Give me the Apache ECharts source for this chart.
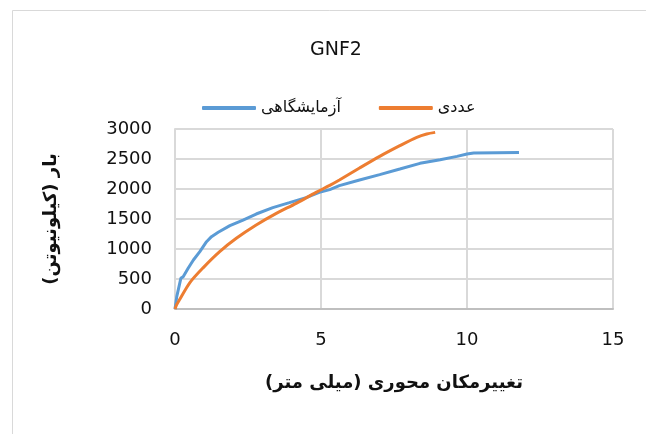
<!DOCTYPE html>
<html>
<head>
<meta charset="utf-8">
<script src="https://cdn.jsdelivr.net/npm/echarts@6/dist/echarts.min.js"></script>
<style>
  html, body { margin: 0; padding: 0; background: #fff; }
  #chart { width: 646px; height: 434px; }
</style>
</head>
<body>
<div id="chart"></div>
<script>
  // آزمایشگاهی (lab test)
  const labX = [0, 0.06, 0.2, 0.28, 0.45, 0.63, 0.85, 1.08, 1.25, 1.48, 1.88, 2.33, 2.78, 3.35, 3.92, 4.49, 4.94, 5.3, 5.63, 6.32, 7.01, 7.7, 8.39, 9.08, 9.66, 10.0, 10.23, 11.03, 11.78];
  const labY = [0, 206, 511, 539, 678, 817, 956, 1122, 1206, 1278, 1389, 1483, 1583, 1689, 1772, 1856, 1944, 1990, 2056, 2150, 2239, 2333, 2428, 2489, 2544, 2583, 2600, 2606, 2610];
  // عددی (numerical)
  const numX = [0, 0.05, 0.17, 0.51, 0.97, 1.53, 2.1, 2.78, 3.47, 4.15, 4.83, 5.3, 5.63, 6.32, 7.01, 7.7, 8.28, 8.62, 8.91];
  const numY = [0, 65, 165, 440, 690, 956, 1178, 1400, 1594, 1761, 1944, 2060, 2150, 2350, 2544, 2722, 2861, 2917, 2944];

  const zip = (xs, ys) => xs.map((x, i) => [x, ys[i]]);

  const font = "'DejaVu Sans', 'Open Sans', sans-serif";
  const RLM = '\u200F';

  let myChart = echarts.init(document.getElementById('chart'));
  let option = {
    backgroundColor: '#ffffff',
    animation: false,
    title: {
      text: 'GNF2',
      left: 305,
      top: 36,
      textStyle: { fontFamily: font, fontSize: 19, fontWeight: 'normal', color: '#111' }
    },
    legend: {
      top: 95,
      left: 197,
      itemGap: 38,
      itemWidth: 54,
      itemHeight: 4,
      icon: 'roundRect',
      textStyle: { fontFamily: font, fontSize: 16, color: '#111' },
      data: ['آزمایشگاهی', 'عددی']
    },
    graphic: [{
      type: 'rect',
      shape: { x: 12.5, y: 10.5, width: 700, height: 500 },
      style: { fill: 'none', stroke: '#d9d9d9', lineWidth: 1 },
      silent: true
    }],
    grid: { left: 175, right: 33, top: 129, bottom: 125 },
    xAxis: {
      type: 'value',
      min: 0,
      max: 15,
      interval: 5,
      name: 'تغییرمکان محوری (میلی متر)' + RLM,
      nameLocation: 'middle',
      nameGap: 65,
      nameTextStyle: { fontFamily: font, fontSize: 18, fontWeight: 'bold', color: '#111' },
      axisLine: { show: true, lineStyle: { color: '#bfbfbf', width: 2 } },
      axisTick: { show: false },
      axisLabel: { margin: 22, fontFamily: font, fontSize: 18, color: '#111' },
      splitLine: { show: true, lineStyle: { color: '#d9d9d9', width: 2 } }
    },
    yAxis: {
      type: 'value',
      min: 0,
      max: 3000,
      interval: 500,
      name: 'بار (کیلونیوتن)' + RLM,
      nameLocation: 'middle',
      nameRotate: 90,
      nameGap: 115,
      nameTextStyle: { fontFamily: font, fontSize: 18, fontWeight: 'bold', color: '#111' },
      axisLine: { show: true, lineStyle: { color: '#d9d9d9', width: 2 } },
      axisTick: { show: false },
      axisLabel: { margin: 23, fontFamily: font, fontSize: 18, color: '#111', formatter: v => String(v) },
      splitLine: { show: true, lineStyle: { color: '#d9d9d9', width: 2 } }
    },
    series: [
      {
        name: 'آزمایشگاهی',
        type: 'line',
        symbol: 'none',
        lineStyle: { color: '#5b9bd5', width: 3 },
        itemStyle: { color: '#5b9bd5' },
        data: zip(labX, labY)
      },
      {
        name: 'عددی',
        type: 'line',
        symbol: 'none',
        smooth: 0.3,
        lineStyle: { color: '#ed7d31', width: 3 },
        itemStyle: { color: '#ed7d31' },
        data: zip(numX, numY)
      }
    ]
  };
  myChart.setOption(option);
</script>
</body>
</html>
